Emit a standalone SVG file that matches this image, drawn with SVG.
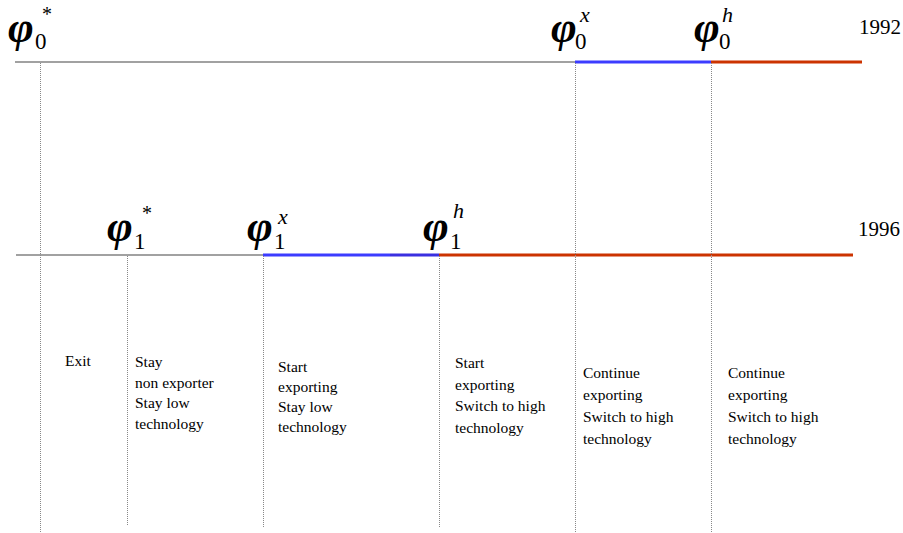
<svg xmlns="http://www.w3.org/2000/svg" width="903" height="533" viewBox="0 0 903 533">
<style>
.bg{fill:#fff}
.base{stroke:#444;stroke-width:1.2;fill:none}
.blue{stroke:#3c3cff;stroke-width:3;fill:none}
.blue2{stroke:#3a2fe0;stroke-width:3;fill:none}
.red{stroke:#cc3300;stroke-width:3;fill:none}
.dot{stroke:#888;stroke-width:1;stroke-dasharray:1,1;fill:none}
text{font-family:"Liberation Serif","Times New Roman","DejaVu Serif",serif;fill:#000}
.phi{font-weight:bold;font-style:italic;font-size:44px}
.sub{font-size:23px}
.sup{font-style:italic;font-size:22px}
.star{font-size:20px}
.year{font-size:21px}
.lab{font-size:15.5px}
</style>
<rect class="bg" x="0" y="0" width="903" height="533"/>
<g id="connectors">
<line class="base" x1="15" y1="62" x2="575" y2="62"/>
<line class="blue" x1="575" y1="62" x2="711" y2="62"/>
<line class="red" x1="711" y1="62" x2="862" y2="62"/>
<line class="base" x1="16" y1="255" x2="263" y2="255"/>
<line class="blue" x1="263" y1="255" x2="390" y2="255"/>
<line class="blue2" x1="390" y1="255" x2="439" y2="255"/>
<line class="red" x1="439" y1="255" x2="853" y2="255"/>
<line class="dot" x1="40.5" y1="63" x2="40.5" y2="533"/>
<line class="dot" x1="127.5" y1="256" x2="127.5" y2="526"/>
<line class="dot" x1="263.5" y1="256" x2="263.5" y2="527"/>
<line class="dot" x1="439.5" y1="256" x2="439.5" y2="527"/>
<line class="dot" x1="575.5" y1="63" x2="575.5" y2="533"/>
<line class="dot" x1="711.5" y1="63" x2="711.5" y2="533"/>
</g>
<g id="phi0star"><text class="phi" x="8" y="42">φ</text><text class="sub" x="35" y="49">0</text><text class="star" x="42" y="21">*</text></g>
<g id="phi0x"><text class="phi" x="551" y="42">φ</text><text class="sub" x="575" y="49">0</text><text class="sup" x="580" y="22">x</text></g>
<g id="phi0h"><text class="phi" x="694" y="42">φ</text><text class="sub" x="719" y="49">0</text><text class="sup" x="722" y="22">h</text></g>
<g id="phi1star"><text class="phi" x="107" y="241">φ</text><text class="sub" x="134" y="249">1</text><text class="star" x="142" y="220">*</text></g>
<g id="phi1x"><text class="phi" x="247" y="241">φ</text><text class="sub" x="274" y="249">1</text><text class="sup" x="278" y="224">x</text></g>
<g id="phi1h"><text class="phi" x="423" y="241">φ</text><text class="sub" x="450" y="249">1</text><text class="sup" x="453" y="218">h</text></g>
<g id="y1992"><text class="year" x="859" y="34">1992</text></g>
<g id="y1996"><text class="year" x="858" y="236">1996</text></g>
<g id="exit"><text class="lab" x="65" y="366">Exit</text></g>
<g id="stay"><text class="lab"><tspan x="135" y="367">Stay</tspan><tspan x="135" y="387.5">non exporter</tspan><tspan x="135" y="408">Stay low</tspan><tspan x="135" y="428.5">technology</tspan></text></g>
<g id="startlow"><text class="lab"><tspan x="278" y="372">Start</tspan><tspan x="278" y="392">exporting</tspan><tspan x="278" y="412">Stay low</tspan><tspan x="278" y="432">technology</tspan></text></g>
<g id="starthigh"><text class="lab"><tspan x="455" y="368">Start</tspan><tspan x="455" y="389.5">exporting</tspan><tspan x="455" y="411">Switch to high</tspan><tspan x="455" y="432.5">technology</tspan></text></g>
<g id="cont1"><text class="lab"><tspan x="583" y="378">Continue</tspan><tspan x="583" y="400">exporting</tspan><tspan x="583" y="422">Switch to high</tspan><tspan x="583" y="444">technology</tspan></text></g>
<g id="cont2"><text class="lab"><tspan x="728" y="378">Continue</tspan><tspan x="728" y="400">exporting</tspan><tspan x="728" y="422">Switch to high</tspan><tspan x="728" y="444">technology</tspan></text></g>
</svg>
